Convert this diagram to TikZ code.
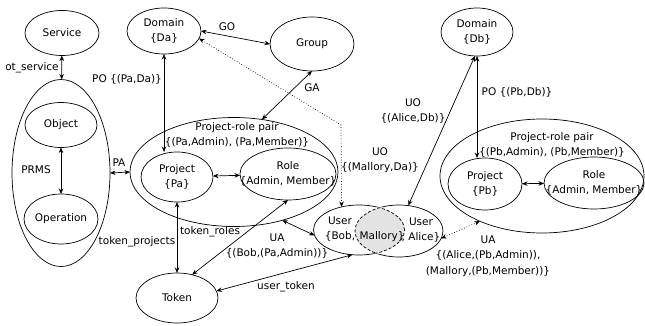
\documentclass[tikz,border=0pt]{standalone}
\usepackage{fontspec}
\setmainfont{DejaVu Sans}
\usetikzlibrary{shapes.geometric,arrows.meta}

\begin{document}
\begin{tikzpicture}[x=1pt, y=-1pt, >={Stealth[length=5.5pt,width=4.5pt]}, line width=0.7pt,
        font=\fontsize{10.5pt}{15.5pt}\selectfont,
        ent/.style={draw, ellipse, inner sep=0pt, outer sep=0pt},
        txt/.style={align=center, inner sep=1pt}]
    \useasboundingbox (0,0) rectangle (645,326);

    % Left: service and PRMS
    \node[ent, minimum width=74pt, minimum height=45pt, label={[txt]center:Service}] (svc) at (62,33) {};
    \node[ent, minimum width=98pt, minimum height=187pt] (prms) at (61,173) {};
    \node[ent, minimum width=72pt, minimum height=45pt, label={[txt]center:Object}] (obj) at (61,125) {};
    \node[ent, minimum width=74pt, minimum height=50pt, label={[txt]center:Operation}] (op) at (61,219) {};
    \node[txt] (prmsl) at (36,170) {PRMS};

    % Domain a, group and its project-role pairs
    \node[ent, minimum width=74pt, minimum height=46pt, label={[txt]center:Domain\\\{Da\}}] (dA) at (164,31) {};
    \node[ent, minimum width=84pt, minimum height=54pt, label={[txt]center:Group}] (grp) at (312,44) {};
    \node[ent, minimum width=208pt, minimum height=109pt] (prpA) at (234,172) {};
    \node[txt] (prpAl) at (237,135) {Project-role pair\\\{(Pa,Admin), (Pa,Member)\}};
    \node[ent, minimum width=72pt, minimum height=50pt, label={[txt]center:Project\\\{Pa\}}] (pA) at (177,177) {};
    \node[ent, minimum width=96pt, minimum height=52pt, label={[txt]center:Role\\\{Admin, Member\}}] (rA) at (288,174) {};
    \node[ent, minimum width=82pt, minimum height=50pt, label={[txt]center:Token}] (tok) at (177,298) {};

    % Users
    \node[ent, minimum width=91pt, minimum height=50pt] (uL) at (359,230) {};
    \node[ent, minimum width=88pt, minimum height=52pt] (uR) at (399,231) {};

    % Domain b and its project-role pairs
    \node[ent, minimum width=72pt, minimum height=48pt, label={[txt]center:Domain\\\{Db\}}] (dB) at (477,32) {};
    \node[ent, minimum width=204pt, minimum height=114pt] (prpB) at (542,176) {};
    \node[txt] (prpBl) at (552,145) {Project-role pair\\\{(Pb,Admin), (Pb,Member)\}};
    \node[ent, minimum width=74pt, minimum height=52pt, label={[txt]center:Project\\\{Pb\}}] (pB) at (485,184) {};
    \node[ent, minimum width=100pt, minimum height=52pt, label={[txt]center:Role\\\{Admin, Member\}}] (rB) at (594,183) {};

    % Shared user (intersection)
    \begin{scope}
        \clip (uL.center) ellipse [x radius=45.5pt, y radius=25pt];
        \draw[white, line width=1.6pt] (uR.center) ellipse [x radius=44pt, y radius=26pt];
    \end{scope}
    \begin{scope}
        \clip (uR.center) ellipse [x radius=44pt, y radius=26pt];
        \draw[white, line width=1.6pt] (uL.center) ellipse [x radius=45.5pt, y radius=25pt];
    \end{scope}
    \begin{scope}
        \clip (uL.center) ellipse [x radius=45.5pt, y radius=25pt];
        \fill[gray!22] (uR.center) ellipse [x radius=44pt, y radius=26pt];
        \draw[densely dashed] (uR.center) ellipse [x radius=44pt, y radius=26pt];
    \end{scope}
    \begin{scope}
        \clip (uR.center) ellipse [x radius=44pt, y radius=26pt];
        \draw[densely dashed] (uL.center) ellipse [x radius=45.5pt, y radius=25pt];
    \end{scope}
    \node[txt] (uLl) at (340,229) {User\\\{Bob,};
    \node[txt] (mal) at (382,237) {Mallory\}};
    \node[txt] (uRl) at (421,230) {User\\, Alice\}};

    % Edge labels
    \node[txt] (otl) at (32,68) {ot\_service};
    \node[txt] (pal) at (119,163) {PA};
    \node[txt] (pol) at (127,79) {PO \{(Pa,Da)\}};
    \node[txt] (gol) at (227,27) {GO};
    \node[txt] (gal) at (312,88) {GA};
    \node[txt] (uoM) at (380,160) {UO\\\{(Mallory,Da)\}};
    \node[txt] (uoA) at (413,111) {UO\\\{(Alice,Db)\}};
    \node[txt] (pobl) at (517,92) {PO \{(Pb,Db)\}};
    \node[txt] (tpl) at (137,242) {token\_projects};
    \node[txt] (trl) at (210,232) {token\_roles};
    \node[txt] (uaB) at (277,246) {UA\\\{(Bob,(Pa,Admin))\}};
    \node[txt] (utl) at (286,287) {user\_token};
    \node[txt] (uaA) at (488,256) {UA\\\{(Alice,(Pb,Admin)),\\(Mallory,(Pb,Member))\}};

    % Relations
    \coordinate (bend) at (341,125);
    \draw[<->] (svc) -- (prms);
    \draw[<->] (obj) -- (op);
    \draw[<->] (prms.east) -- (prpA.west);
    \draw[<->] (dA.south) -- (dA.south |- pA.north);
    \draw[<->] (dA.east) -- (grp.west);
    \draw[<->] (grp.south) -- (prpA.62);
    \draw[<->] (pA) -- (rA);
    \draw[<->] (pA) -- (tok);
    \draw[<->] (tok.57) -- (rA.south);
    \draw[<->] (prpA.-45) -- (uL.187);
    \draw[<->] (uL.255) -- (tok.10);
    \draw[<->, dotted] (uL.127) -- (bend) -- (dA.-12);
    \draw[<->] (uR.70) -- (dB.265);
    \draw[<->] (dB.south) -- (dB.south |- pB.north);
    \draw[<->] (pB) -- (rB);
    \draw[<->, dotted] (uR.-10) -- (prpB.216);
\end{tikzpicture}
\end{document}
